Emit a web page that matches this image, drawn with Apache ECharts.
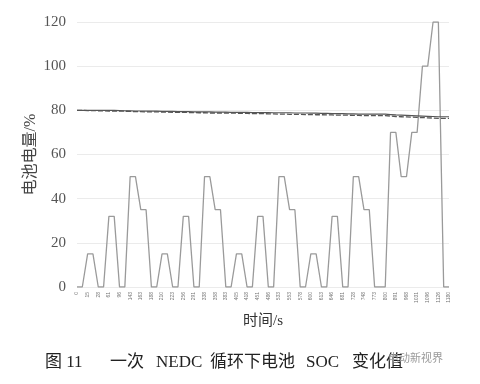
<!DOCTYPE html>
<html><head><meta charset="utf-8">
<script src="https://cdn.jsdelivr.net/npm/echarts@6/dist/echarts.min.js"></script>
<style>html,body{margin:0;padding:0;background:#fff}#c{width:480px;height:384px}</style>
</head><body><div id="c"></div>
<script>
var timeLabels = [0,11,15,23,28,49,61,85,96,117,143,155,163,176,188,
195,210,218,223,244,256,280,291,312,338,350,358,371,383,
390,405,413,418,439,451,475,486,507,533,545,553,566,578,
585,600,608,613,634,646,670,681,702,728,740,748,761,773,
780,800,841,891,899,968,981,1031,1066,1096,1116,1126,1160,1180];
var speed = [0,0,15,15,0,0,32,32,0,0,50,50,35,35,0,
0,15,15,0,0,32,32,0,0,50,50,35,35,0,
0,15,15,0,0,32,32,0,0,50,50,35,35,0,
0,15,15,0,0,32,32,0,0,50,50,35,35,0,
0,0,70,70,50,50,70,70,100,100,120,120,0,0];
var socSolid = [80.0,80.0,80.0,80.0,80.0,80.0,80.0,80.0,
79.9,79.8,79.8,79.7,79.7,79.6,79.6,79.6,
79.5,79.5,79.5,79.4,79.4,79.4,79.3,79.3,
79.3,79.3,79.2,79.2,79.2,79.1,79.1,79.1,
79.1,79.0,79.0,79.0,79.0,78.9,78.9,78.9,
78.9,78.8,78.8,78.8,78.7,78.7,78.6,78.6,
78.5,78.5,78.5,78.4,78.4,78.3,78.3,78.3,
78.3,78.3,78.3,78.1,77.9,77.8,77.7,77.6,
77.5,77.4,77.3,77.2,77.1,77.1,77.1];
var socDashed = [80.0,80.0,79.9,79.9,79.8,79.8,79.7,79.7,
79.6,79.6,79.5,79.4,79.4,79.3,79.3,79.3,
79.2,79.2,79.1,79.1,79.1,79.0,79.0,78.9,
78.9,78.8,78.8,78.8,78.8,78.7,78.7,78.6,
78.6,78.5,78.5,78.5,78.4,78.4,78.3,78.3,
78.2,78.2,78.2,78.1,78.1,78.0,78.0,77.9,
77.9,77.8,77.8,77.8,77.7,77.7,77.6,77.6,
77.6,77.6,77.6,77.4,77.2,77.1,77.0,76.9,
76.8,76.7,76.6,76.5,76.4,76.4,76.4];
var yTicks = [0,20,40,60,80,100,120];
var captionParts = ['图 11','一次','NEDC','循环下电池','SOC','变化值'];

var serifCJK = 'Liberation Serif, Noto Sans CJK SC';
var capX = [45,110,156,210,306,352];
var graphics = captionParts.map(function(t,i){
  return {type:'text', left:capX[i], top:354, style:{text:t, fontSize:17, fill:'#222', fontFamily:serifCJK}};
});
graphics.push({type:'text', left:388, top:352, style:{text:'电动新视界', fontSize:11, fill:'#9a9a9a', fontFamily:'Noto Sans CJK SC'}});

var chart = echarts.init(document.getElementById('c'), null, {renderer:'canvas'});
chart.setOption({
  animation:false,
  backgroundColor:'#fff',
  grid:{left:77,right:31,top:22,bottom:97},
  xAxis:{
    type:'category', data:timeLabels.map(String), boundaryGap:false,
    axisLine:{show:false}, axisTick:{show:false},
    axisLabel:{interval:1, rotate:90, fontSize:5, color:'#777', margin:5, fontFamily:'Liberation Sans'},
    name:'时间/s', nameLocation:'middle', nameGap:27, nameMoveOverlap:false,
    nameTextStyle:{fontSize:15, color:'#333', fontFamily:serifCJK}
  },
  yAxis:{
    type:'value', min:yTicks[0], max:yTicks[yTicks.length-1], interval:20,
    axisLine:{show:false}, axisTick:{show:false},
    splitLine:{lineStyle:{color:'#ebebeb', width:1}},
    axisLabel:{fontSize:15, color:'#555', margin:11, fontFamily:'Liberation Serif'},
    name:'电池电量/%', nameLocation:'middle', nameGap:38, nameMoveOverlap:false,
    nameTextStyle:{fontSize:16, color:'#444', fontFamily:serifCJK}
  },
  series:[
    {type:'line', data:speed, symbol:'none', lineStyle:{color:'#9a9a9a', width:1.3}},
    {type:'line', data:socSolid, symbol:'none', lineStyle:{color:'#555', width:1.2}},
    {type:'line', data:socDashed, symbol:'none', lineStyle:{color:'#555', width:1.3, type:[5,2]}}
  ],
  graphic:graphics
});
</script></body></html>
